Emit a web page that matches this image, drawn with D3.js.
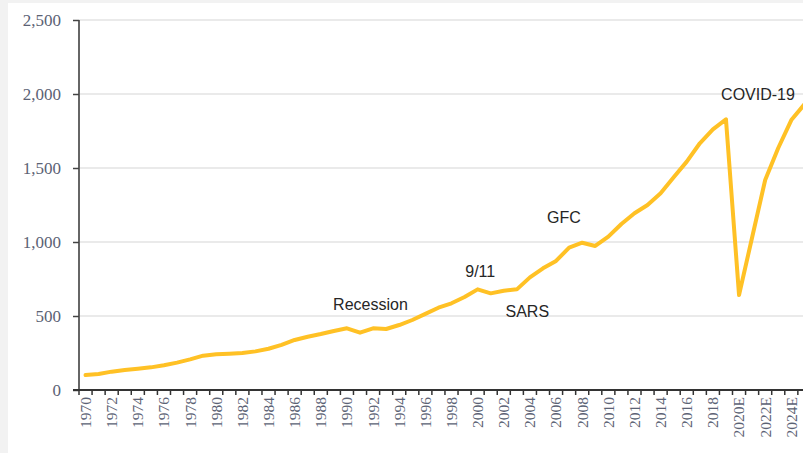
<!DOCTYPE html>
<html>
<head>
<meta charset="utf-8">
<script src="https://cdn.jsdelivr.net/npm/d3@7"></script>
<style>
  body { margin: 0; background: #f2f2f2; }
  svg { display: block; }
</style>
</head>
<body>
<div id="chart"></div>
<script>
// category labels
const years = [];
for (let y = 1970; y <= 2019; y++) years.push(String(y));
const forecastYears = ["2020E", "2021E", "2022E", "2023E", "2024E", "2025E"];
const categories = years.concat(forecastYears);

// series values
const values = [
  101, 108, 124, 135, 144, 153, 167, 185, 207, 232,
  241, 245, 250, 261, 279, 305, 338, 360, 378, 399,
  417, 387, 417, 412, 439, 473, 514, 556, 586, 628,
  680, 653, 671, 680, 761, 822, 872, 962, 995, 973,
  1036, 1122, 1194, 1250, 1329, 1437, 1543, 1667, 1761, 1829,
  642, 1030, 1419, 1635, 1824, 1930
];

const yTicks = [0, 500, 1000, 1500, 2000, 2500];

// event labels: [text, fractional year, value at baseline]
const notes = [
  ["Recession", 1991.8, 540],
  ["9/11", 2000.2, 764],
  ["SARS", 2003.8, 493],
  ["GFC", 2006.6, 1128],
  ["COVID-19", 2021.45, 1959]
];

const w = 803, h = 453;
const padLeft = 79, padTop = 20, baseY = 390;
const step = 13.07;

const svg = d3.select("#chart").append("svg")
  .attr("width", w)
  .attr("height", h);

svg.append("rect")
  .attr("x", 8).attr("y", 3)
  .attr("width", w - 8).attr("height", h - 3)
  .attr("fill", "#ffffff");

const xScale = d3.scaleBand()
  .domain(categories)
  .range([padLeft, padLeft + categories.length * step])
  .padding(0);

const yScale = d3.scaleLinear()
  .domain([0, 2500])
  .range([baseY, padTop]);

const xCenter = d => xScale(d) + xScale.bandwidth() / 2;
const xAt = yr => xScale(categories[0]) + (yr - 1970 + 0.5) * xScale.step();

// gridlines
svg.append("g")
  .selectAll("line")
  .data(yTicks.slice(1))
  .enter()
  .append("line")
  .attr("x1", padLeft).attr("x2", w)
  .attr("y1", d => yScale(d)).attr("y2", d => yScale(d))
  .attr("stroke", "#e3e3e3")
  .attr("stroke-width", 1.5);

// y axis
const yAxis = d3.axisLeft(yScale).tickValues(yTicks).tickSize(6).tickPadding(12).tickFormat(d3.format(","));
const gy = svg.append("g")
  .attr("transform", "translate(" + padLeft + ",0)")
  .call(yAxis);
gy.select(".domain").attr("stroke", "#666").attr("stroke-width", 2).attr("d", "M0," + padTop + "V" + baseY);
gy.selectAll(".tick line").attr("stroke", "#444").attr("stroke-width", 1.5);
gy.selectAll(".tick text")
  .attr("fill", "#5b6274")
  .style("font-family", "'Liberation Serif', 'Times New Roman', serif")
  .style("font-size", "17px");

// x axis: labels every other year, ticks on category boundaries
const xAxis = d3.axisBottom(xScale)
  .tickValues(categories.filter((d, i) => i % 2 === 0))
  .tickSize(0);
const gx = svg.append("g")
  .attr("transform", "translate(0," + baseY + ")")
  .call(xAxis);
gx.select(".domain").remove();
gx.selectAll(".tick text")
  .attr("transform", "rotate(-90)")
  .attr("x", -7)
  .attr("y", 0)
  .attr("dy", "0.35em")
  .attr("text-anchor", "end")
  .attr("fill", "#5b6274")
  .style("font-family", "'Liberation Serif', 'Times New Roman', serif")
  .style("font-size", "15.5px");

svg.append("g")
  .selectAll("line")
  .data(categories.concat(["end"]))
  .enter()
  .append("line")
  .attr("x1", (d, i) => padLeft + i * xScale.step())
  .attr("x2", (d, i) => padLeft + i * xScale.step())
  .attr("y1", baseY).attr("y2", baseY + 5)
  .attr("stroke", "#333")
  .attr("stroke-width", 1.5);

svg.append("line")
  .attr("x1", padLeft - 6).attr("x2", w)
  .attr("y1", baseY).attr("y2", baseY)
  .attr("stroke", "#333")
  .attr("stroke-width", 2);

// series
const line = d3.line()
  .x((d, i) => xCenter(categories[i]))
  .y(d => yScale(d));

svg.append("path")
  .datum(values)
  .attr("d", line)
  .attr("fill", "none")
  .attr("stroke", "#ffc125")
  .attr("stroke-width", 4)
  .attr("stroke-linejoin", "round")
  .attr("stroke-linecap", "round");

// event labels
svg.append("g")
  .selectAll("text")
  .data(notes)
  .enter()
  .append("text")
  .attr("x", d => xAt(d[1]))
  .attr("y", d => yScale(d[2]))
  .attr("text-anchor", "middle")
  .attr("fill", "#262626")
  .style("font-family", "'Liberation Sans', Arial, sans-serif")
  .style("font-size", "16px")
  .text(d => d[0]);
</script>
</body>
</html>
